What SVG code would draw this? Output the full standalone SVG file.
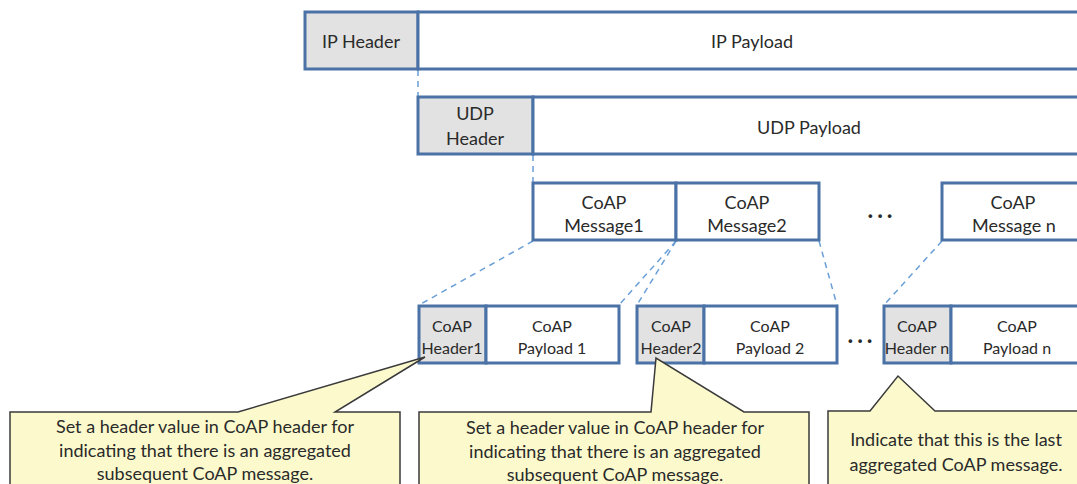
<svg xmlns="http://www.w3.org/2000/svg" width="1077" height="484" viewBox="0 0 1077 484">
<style>
.box{fill:#ffffff;stroke:#4a72a6;stroke-width:3}
.hdr{fill:#e2e2e2;stroke:#4a72a6;stroke-width:3}
.dash{fill:none;stroke:#6a9fd8;stroke-width:1.5;stroke-dasharray:6,5}
.call{fill:#fcfacd;stroke:#3a3a3a;stroke-width:1.5;stroke-linejoin:miter}
text{font-family:Lato,"Open Sans","Liberation Sans",sans-serif;fill:#2a2a2a;text-anchor:middle}
.t16{font-size:18px}
.t15{font-size:16px}
.dots{font-size:24px;font-weight:bold;letter-spacing:4px}
</style>
<rect width="1077" height="484" fill="#ffffff"/>
<g id="connectors">
<line class="dash" x1="418" y1="70" x2="418" y2="96"/>
<line class="dash" x1="533" y1="155" x2="533" y2="182"/>
<line class="dash" x1="533" y1="241" x2="419" y2="305"/>
<line class="dash" x1="676" y1="241" x2="619" y2="305"/>
<line class="dash" x1="676" y1="241" x2="637" y2="305"/>
<line class="dash" x1="819" y1="241" x2="837" y2="305"/>
<line class="dash" x1="942" y1="241" x2="884" y2="305"/>
</g>
<g id="ip-header"><rect class="hdr" x="305" y="12" width="113" height="57"/><text class="t16" x="361" y="48">IP Header</text></g>
<g id="ip-payload"><rect class="box" x="418" y="12" width="680" height="57"/><text class="t16" x="752" y="48">IP Payload</text></g>
<g id="udp-header"><rect class="hdr" x="418" y="97" width="115" height="57"/><text class="t16" x="475" y="120">UDP</text><text class="t16" x="475" y="145">Header</text></g>
<g id="udp-payload"><rect class="box" x="533" y="97" width="565" height="57"/><text class="t16" x="809" y="134">UDP Payload</text></g>
<g id="coap-message1"><rect class="box" x="533" y="183" width="143" height="57"/><text class="t16" x="604" y="209">CoAP</text><text class="t16" x="604" y="232">Message1</text></g>
<g id="coap-message2"><rect class="box" x="676" y="183" width="143" height="57"/><text class="t16" x="747" y="209">CoAP</text><text class="t16" x="747" y="232">Message2</text></g>
<g id="dots-top"><text class="dots" x="882" y="218">...</text></g>
<g id="coap-message-n"><rect class="box" x="942" y="183" width="160" height="57"/><text class="t16" x="1013" y="209">CoAP</text><text class="t16" x="1014" y="232">Message n</text></g>
<g id="coap-header1"><rect class="hdr" x="419" y="306" width="67" height="57"/><text class="t15" x="452" y="332">CoAP</text><text class="t15" x="452" y="354">Header1</text></g>
<g id="coap-payload1"><rect class="box" x="486" y="306" width="133" height="57"/><text class="t15" x="552" y="332">CoAP</text><text class="t15" x="552" y="354">Payload 1</text></g>
<g id="coap-header2"><rect class="hdr" x="637" y="306" width="67" height="57"/><text class="t15" x="671" y="332">CoAP</text><text class="t15" x="671" y="354">Header2</text></g>
<g id="coap-payload2"><rect class="box" x="704" y="306" width="133" height="57"/><text class="t15" x="770" y="332">CoAP</text><text class="t15" x="770" y="354">Payload 2</text></g>
<g id="dots-bottom"><text class="dots" x="862" y="343">...</text></g>
<g id="coap-header-n"><rect class="hdr" x="884" y="306" width="67" height="57"/><text class="t15" x="917" y="332">CoAP</text><text class="t15" x="917" y="354">Header n</text></g>
<g id="coap-payload-n"><rect class="box" x="951" y="306" width="150" height="57"/><text class="t15" x="1017" y="332">CoAP</text><text class="t15" x="1017" y="354">Payload n</text></g>
<g id="callout1"><path class="call" d="M10,412 L238,412 L425,357 L335,412 L400,412 L400,490 L10,490 Z"/><text class="t16" x="205" y="433">Set a header value in CoAP header for</text><text class="t16" x="205" y="457">indicating that there is an aggregated</text><text class="t16" x="205" y="480">subsequent CoAP message.</text></g>
<g id="callout2"><path class="call" d="M419,412 L651,412 L656,358 L744,412 L809,412 L809,490 L419,490 Z"/><text class="t16" x="615" y="434">Set a header value in CoAP header for</text><text class="t16" x="615" y="458">indicating that there is an aggregated</text><text class="t16" x="615" y="481">subsequent CoAP message.</text></g>
<g id="callout3"><path class="call" d="M828,411 L870,411 L898,376 L935,411 L1090,411 L1090,490 L828,490 Z"/><text class="t16" x="956" y="446">Indicate that this is the last</text><text class="t16" x="956" y="471">aggregated CoAP message.</text></g>
</svg>
